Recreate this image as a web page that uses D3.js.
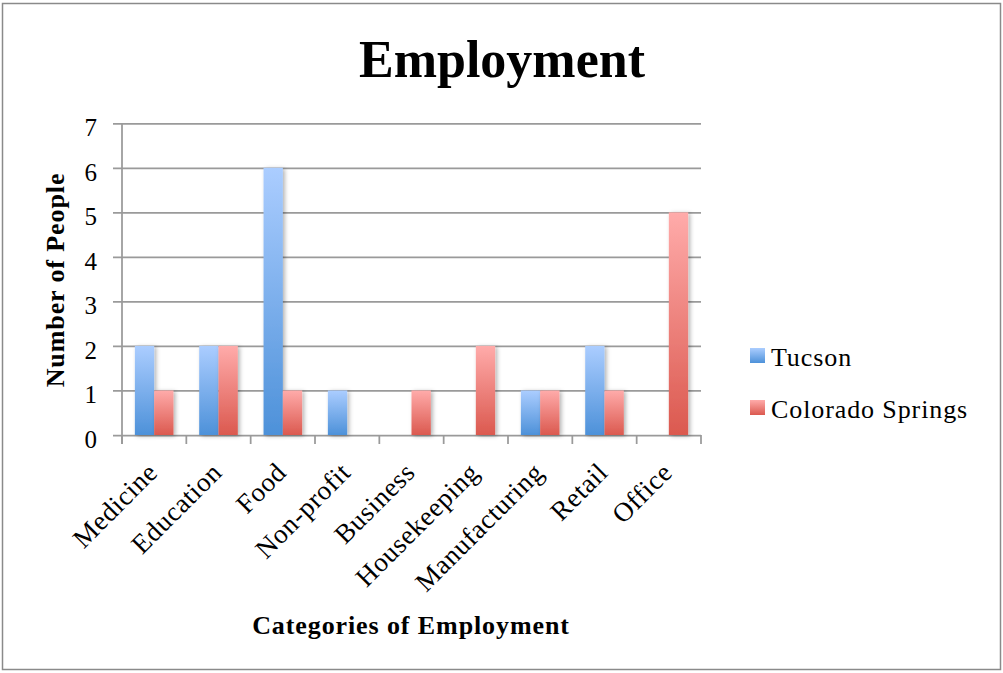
<!DOCTYPE html>
<html>
<head>
<meta charset="utf-8">
<script src="https://cdn.jsdelivr.net/npm/d3@7"></script>
<style>
  body { margin: 0; background: #fff; }
  text { font-family: "Liberation Serif", "Times New Roman", serif; fill: #000; }
</style>
</head>
<body>
<div id="chart"></div>
<script>
    const categories = ["Medicine", "Education", "Food", "Non-profit", "Business", "Housekeeping", "Manufacturing", "Retail", "Office"];
    const seriesNames = ["Tucson", "Colorado Springs"];
    const tucson = [2, 2, 6, 1, 0, 0, 1, 2, 0];
    const coloradoSprings = [1, 2, 1, 0, 1, 2, 1, 1, 5];
    const yTicks = [0, 1, 2, 3, 4, 5, 6, 7];

    function create_employment_chart(targetElementId) {
        const W = 1003, H = 673;
        const margin = { top: 123.3, left: 122 };
        const width = 579;
        const height = 311.7;

        const root = d3.select(`#${targetElementId}`).append("svg")
            .attr("width", W)
            .attr("height", H);

        // gradients + shadow
        const defs = root.append("defs");
        const grads = [
            { id: "gradBlue", top: "#abcdff", bottom: "#4d91d9" },
            { id: "gradRed", top: "#ffabaa", bottom: "#db594f" }
        ];
        grads.forEach(g => {
            const lg = defs.append("linearGradient")
                .attr("id", g.id)
                .attr("x1", 0).attr("y1", 0).attr("x2", 0).attr("y2", 1);
            lg.append("stop").attr("offset", "0%").attr("stop-color", g.top);
            lg.append("stop").attr("offset", "100%").attr("stop-color", g.bottom);
        });
        defs.append("filter")
            .attr("id", "barShadow")
            .attr("x", "-50%").attr("y", "-10%").attr("width", "200%").attr("height", "120%")
            .append("feDropShadow")
                .attr("dx", 2).attr("dy", 1)
                .attr("stdDeviation", 2.2)
                .attr("flood-color", "#000")
                .attr("flood-opacity", 0.3);

        // outer border
        root.append("rect")
            .attr("x", 2.5).attr("y", 3.5)
            .attr("width", 998).attr("height", 666)
            .attr("fill", "none")
            .attr("stroke", "#8a8a8a")
            .attr("stroke-width", 1.5);

        const svg = root.append("g")
            .attr("transform", `translate(${margin.left},${margin.top})`);

        // scales
        const x0 = d3.scaleBand()
            .domain(categories)
            .range([0, width])
            .padding(0);
        const x1 = d3.scaleBand()
            .domain(seriesNames)
            .range([x0.bandwidth() * 0.2, x0.bandwidth() * 0.8])
            .padding(0);
        const y = d3.scaleLinear()
            .domain([0, 7])
            .range([height, 0]);
        const fills = { "Tucson": "url(#gradBlue)", "Colorado Springs": "url(#gradRed)" };

        // y axis with gridlines
        svg.append("g")
            .call(d3.axisLeft(y).tickValues(yTicks).tickSizeOuter(0).tickFormat(d => d))
            .call(g => g.select(".domain").remove())
            .call(g => g.selectAll(".tick line")
                .attr("x1", -9).attr("x2", width)
                .attr("stroke", "#9a9a9a")
                .attr("stroke-width", 1.75))
            .call(g => g.selectAll(".tick text")
                .attr("x", -25)
                .attr("dy", "0.5em")
                .style("font-family", "'Liberation Serif', serif")
                .style("font-size", "25px")
                .attr("fill", "#000"));

        svg.append("line")
            .attr("x1", 0).attr("x2", 0)
            .attr("y1", 0).attr("y2", height + 9)
            .attr("stroke", "#9a9a9a")
            .attr("stroke-width", 1.75);

        // x axis tick marks at band edges
        const edges = categories.map(c => x0(c)).concat([width]);
        svg.selectAll(".xEdge")
            .data(edges)
            .enter()
            .append("line")
                .attr("class", "xEdge")
                .attr("x1", d => d).attr("x2", d => d)
                .attr("y1", height).attr("y2", height + 9)
                .attr("stroke", "#9a9a9a")
                .attr("stroke-width", 1.75);

        // bars
        const rows = categories.map((c, i) => ({ c, values: [
            { s: "Tucson", v: tucson[i] },
            { s: "Colorado Springs", v: coloradoSprings[i] }
        ] }));

        svg.selectAll(".grp")
            .data(rows)
            .enter()
            .append("g")
                .attr("class", "grp")
                .attr("transform", d => `translate(${x0(d.c)},0)`)
            .selectAll("rect")
            .data(d => d.values.filter(v => v.v > 0))
            .enter()
            .append("rect")
                .attr("x", d => x1(d.s))
                .attr("y", d => y(d.v))
                .attr("width", x1.bandwidth())
                .attr("height", d => y(0) - y(d.v))
                .attr("fill", d => fills[d.s])
                .attr("filter", "url(#barShadow)");

        // category labels, rotated
        svg.selectAll(".catLabel")
            .data(categories)
            .enter()
            .append("text")
                .attr("class", "catLabel")
                .attr("text-anchor", "end")
                .attr("transform", d => `translate(${x0(d) + x0.bandwidth() / 2 + 5},${height + 39}) rotate(-45)`)
                .style("font-size", "27px")
                .style("letter-spacing", "0.6px")
                .text(d => d);

        // title
        root.append("text")
            .attr("x", 502).attr("y", 77)
            .attr("text-anchor", "middle")
            .style("font-size", "52px")
            .style("font-weight", "bold")
            .text("Employment");

        // axis titles
        root.append("text")
            .attr("transform", "translate(64,280) rotate(-90)")
            .attr("text-anchor", "middle")
            .style("font-size", "26px")
            .style("font-weight", "bold")
            .style("letter-spacing", "0.9px")
            .text("Number of People");

        root.append("text")
            .attr("x", 411).attr("y", 634)
            .attr("text-anchor", "middle")
            .style("font-size", "26px")
            .style("font-weight", "bold")
            .style("letter-spacing", "0.9px")
            .text("Categories of Employment");

        // legend
        const legend = root.append("g")
            .attr("transform", "translate(750,348)");
        const items = legend.selectAll(".legItem")
            .data(seriesNames)
            .enter()
            .append("g")
                .attr("class", "legItem")
                .attr("transform", (d, i) => `translate(0,${i * 52})`);
        items.append("rect")
            .attr("width", 15).attr("height", 15)
            .attr("fill", d => fills[d]);
        items.append("text")
            .attr("x", 21).attr("y", 17.5)
            .style("font-size", "26px")
            .style("letter-spacing", "0.9px")
            .text(d => d);
    }

    create_employment_chart("chart");
</script>
</body>
</html>
